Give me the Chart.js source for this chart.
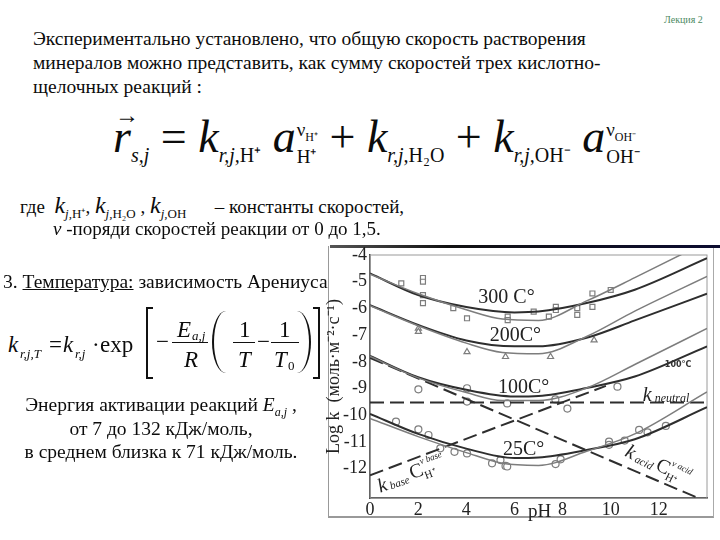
<!DOCTYPE html>
<html>
<head>
<meta charset="utf-8">
<script src="https://cdn.jsdelivr.net/npm/chart.js@4.4.0/dist/chart.umd.min.js"></script>
<style>
body { margin: 0; width: 720px; height: 540px; background: #fff; position: relative; overflow: hidden;
       font-family: 'Liberation Serif', 'Times New Roman', serif; color: #0c0c0c; }
.t { position: absolute; white-space: nowrap; z-index: 2; font-family: 'Liberation Serif', serif; }
sub, sup { line-height: 0; }
.i { font-style: italic; }
.rm { font-style: normal; }
.vec { position: relative; display: inline-block; }
.vec::before { content: '\2192'; position: absolute; left: 2px; top: -22px; font-size: 24px; font-style: normal; }
.stk { display: inline-flex; flex-direction: column; line-height: 27px; font-size: 19px; vertical-align: 16px; font-style: normal; margin-left: 1px; }
/* Arrhenius formula: pieces placed one by one */
.a { position: absolute; white-space: nowrap; font-size: 23px; line-height: 22px; z-index: 2; }
.s { font-size: 13px; line-height: 13px; font-style: italic; }
.bar { position: absolute; height: 0; border-top: 1.5px solid #111; }
.brk { position: absolute; width: 5px; height: 68px; border: 2px solid #111; }
.par { position: absolute; width: 12px; height: 62px; border: 0 solid #111; }
#frame { position: absolute; left: 328px; top: 246px; width: 384px; height: 270px;
         border-left: 1px solid #999; border-right: 1px solid #aaa; border-bottom: 2px solid #999; }
#bar { position: absolute; left: 330px; top: 245px; width: 390px; height: 3px; background: linear-gradient(90deg, #555, #111 30%, #0c0c30); }
#chart { position: absolute; left: 310px; top: 240px; z-index: 1; }
</style>
</head>
<body>
<div class="t" style="left:664px;top:14px;font-size:10px;color:#4d8a63">Лекция 2</div>
<div class="t" style="left:33px;top:27px;font-size:19.5px;line-height:24px">
Экспериментально установлено, что общую скорость растворения<br>
минералов можно представить, как сумму скоростей трех кислотно-<br>
щелочных реакций :
</div>

<div class="t i" style="left:113px;top:112px;font-size:46px;line-height:50px">
<span class="vec">r</span><sub style="font-size:20px">s,j</sub> <span class="rm">=</span> k<sub style="font-size:20px">r,j,<span class="rm">H⁺</span></sub> a<span class="stk"><span>ν<sub style="font-size:12px">H⁺</sub></span><span>H⁺</span></span> <span class="rm">+</span> k<sub style="font-size:20px">r,j,<span class="rm">H₂O</span></sub> <span class="rm">+</span> k<sub style="font-size:20px">r,j,<span class="rm">OH⁻</span></sub> a<span class="stk"><span>ν<sub style="font-size:12px">OH⁻</sub></span><span>OH⁻</span></span>
</div>

<div class="t" style="left:20px;top:193px;font-size:19px;line-height:24px">
где&nbsp; <span class="i" style="font-size:24px">k</span><sub class="i" style="font-size:13px">j,<span class="rm">H⁺</span></sub>, <span class="i" style="font-size:24px">k</span><sub class="i" style="font-size:13px">j,<span class="rm">H₂O</span></sub> , <span class="i" style="font-size:24px">k</span><sub class="i" style="font-size:13px">j,<span class="rm">OH</span></sub>&nbsp;&nbsp;&nbsp;&nbsp;&nbsp; – константы скоростей,
</div>
<div class="t" style="left:53px;top:217px;font-size:19px;line-height:24px">
<span class="i">ν</span> -поряди скоростей реакции от 0 до 1,5.
</div>

<div class="t" style="left:3px;top:271px;font-size:19.5px">3. <u>Температура:</u> зависимость Арениуса</div>

<span class="a i" style="left:8px;top:334px">k</span>
<span class="a s" style="left:20px;top:347px">r,j,T</span>
<span class="a" style="left:49px;top:334px">=</span>
<span class="a i" style="left:63px;top:334px">k</span>
<span class="a s" style="left:75px;top:347px">r,j</span>
<span class="a" style="left:92px;top:334px">·</span>
<span class="a" style="left:100px;top:334px">exp</span>
<div class="brk" style="left:146px;top:307px;border-right:none"></div>
<span class="a" style="left:156px;top:331px">−</span>
<span class="a i" style="left:177px;top:319px">E</span>
<span class="a s" style="left:192px;top:329px">a,j</span>
<div class="bar" style="left:172px;top:342px;width:36px"></div>
<span class="a i" style="left:184px;top:349px">R</span>
<div class="par" style="left:212px;top:311px;border-left-width:2.5px;border-radius:100% 0 0 100% / 50% 0 0 50%"></div>
<span class="a" style="left:239px;top:319px">1</span>
<div class="bar" style="left:233px;top:342px;width:22px"></div>
<span class="a i" style="left:238px;top:349px">T</span>
<span class="a" style="left:257px;top:331px">−</span>
<span class="a" style="left:279px;top:319px">1</span>
<div class="bar" style="left:271px;top:342px;width:28px"></div>
<span class="a i" style="left:274px;top:349px">T</span>
<span class="a s" style="left:288px;top:359px;font-style:normal">0</span>
<div class="par" style="left:297px;top:311px;border-right-width:2.5px;border-radius:0 100% 100% 0 / 0 50% 50% 0"></div>
<div class="brk" style="left:313px;top:307px;border-left:none"></div>

<div class="t" style="left:0;top:393px;width:322px;text-align:center;font-size:19.5px;line-height:23.5px">
Энергия активации реакций <span class="i">E</span><sub class="i" style="font-size:12px">a,j</sub> ,<br>
от 7 до 132 кДж/моль,<br>
в среднем близка к 71 кДж/моль.
</div>

<div id="frame"></div>
<div id="bar"></div>
<canvas id="chart" width="410" height="300"></canvas>

<script>
// axis ticks
const xTicks = [0, 2, 4, 6, 8, 10, 12];
const yTicks = [-4, -5, -6, -7, -8, -9, -10, -11, -12];

// fitted curves (dark = model 1, gray = model 2)
const phDark = [0, 2, 4, 6, 7, 9, 11, 14];
const k300Dark = [-4.69, -5.5, -5.95, -6.15, -6.12, -5.8, -5.3, -4.12];
const k200Dark = [-5.88, -6.62, -7.2, -7.42, -7.42, -7.1, -6.45, -5.45];
const k100Dark = [-7.78, -8.58, -9.05, -9.3, -9.28, -8.98, -8.55, -7.42];
const k25Dark = [-9.95, -10.7, -11.25, -11.6, -11.58, -11.3, -10.9, -9.7];

const phGray = [0, 2, 4, 5.5, 7, 9, 11, 14];
const k300Gray = [-4.72, -5.45, -6.05, -6.4, -6.45, -5.72, -4.85, -3.5];
const k200Gray = [-5.9, -6.65, -7.3, -7.65, -7.7, -7.05, -6.1, -4.8];
const k100Gray = [-7.8, -8.6, -9.15, -9.45, -9.45, -8.98, -8.1, -6.75];
const k25Gray = [-10.12, -10.8, -11.4, -11.8, -11.88, -11.35, -10.7, -9.13];

// dashed rate-law lines
const phNeutral = [0, 14];
const kNeutral = [-9.52, -9.52];
const phAcid = [0, 13.6];
const kAcid = [-7.85, -13.09];
const phBase = [0, 9.8];
const kBase = [-12.25, -8.9];

// measured points
const pts300X = [1.3, 2.2, 2.2, 2.2, 2.2, 3.46, 4.03, 5.72, 5.72, 6.8, 7.43, 7.72, 7.72, 8.61, 8.61, 9.24, 9.24, 10.0];
const pts300Y = [-5.06, -4.86, -5.0, -5.5, -5.8, -5.99, -6.37, -6.31, -6.44, -6.12, -6.31, -5.94, -6.06, -5.99, -6.24, -5.44, -5.94, -5.31];
const pts200X = [2.01, 2.01, 4.03, 5.63, 7.5, 9.31];
const pts200Y = [-6.75, -6.87, -7.63, -7.81, -7.81, -7.19];
const pts100X = [2.01, 4.03, 4.03, 5.7, 7.7, 8.2, 10.28];
const pts100Y = [-9.03, -8.99, -9.49, -9.56, -9.41, -9.75, -8.93];
const pts25X = [1.08, 2.01, 2.43, 2.92, 3.51, 4.03, 5.07, 5.42, 5.63, 5.7, 7.71, 7.92, 9.93, 9.93, 10.58, 11.18, 11.53, 12.29];
const pts25Y = [-10.24, -10.53, -10.74, -11.24, -11.37, -11.43, -11.8, -11.68, -11.9, -11.92, -11.83, -11.65, -10.99, -11.11, -10.95, -10.55, -10.64, -10.4];

// curve labels
const tempLabels = ['300 C°', '200C°', '100C°', '25C°'];
const tempLabelPH = [5.67, 6.04, 6.38, 6.38];
const tempLabelK = [-5.61, -7.04, -8.98, -11.3];

const DARK = '#2e2e2e';
const GRAY = '#7d7d7d';
const SERIF = '"Liberation Serif", "Times New Roman", serif';

const xy = (xs, ys) => xs.map((x, i) => ({ x, y: ys[i] }));

function curve(xs, ys, color, width) {
    return {
        data: xy(xs, ys),
        borderColor: color,
        borderWidth: width,
        pointRadius: 0,
        cubicInterpolationMode: 'monotone',
        fill: false,
    };
}

function dashed(xs, ys) {
    return {
        data: xy(xs, ys),
        borderColor: DARK,
        borderWidth: 2,
        borderDash: [14, 6],
        pointRadius: 0,
        tension: 0,
        fill: false,
    };
}

function points(xs, ys, style) {
    return {
        data: xy(xs, ys),
        showLine: false,
        pointStyle: style,
        pointRadius: 3.5,
        pointBorderWidth: 1.2,
        pointBorderColor: GRAY,
        pointBackgroundColor: '#fff',
    };
}

// text made of pieces with their own size / offset (sub- and superscripts)
function drawRich(ctx, x, y, segs, angle) {
    ctx.save();
    ctx.translate(x, y);
    ctx.rotate((angle || 0) * Math.PI / 180);
    const font = s => (s.it ? 'italic ' : '') + s.size + 'px ' + SERIF;
    let w = 0, start = 0;
    const pos = segs.map(s => {
        ctx.font = font(s);
        const sw = ctx.measureText(s.t).width;
        if (s.stack) {
            w = Math.max(w, start + sw);
            return start;
        }
        start = w;
        w += sw;
        return start;
    });
    ctx.fillStyle = '#222';
    ctx.textBaseline = 'middle';
    ctx.textAlign = 'left';
    segs.forEach((s, i) => {
        ctx.font = font(s);
        ctx.fillText(s.t, pos[i] - w / 2, s.dy || 0);
    });
    ctx.restore();
}

const labelPlugin = {
    id: 'labels',
    beforeDatasetsDraw(chart) {
        const { ctx, chartArea: a } = chart;
        ctx.save();
        ctx.strokeStyle = '#9a9a9a';
        ctx.lineWidth = 1;
        ctx.strokeRect(a.left, a.top, a.right - a.left, a.bottom - a.top);
        ctx.restore();
    },
    afterDatasetsDraw(chart) {
        const { ctx, scales: { x, y }, chartArea: a } = chart;
        const px = v => x.getPixelForValue(v);
        const py = v => y.getPixelForValue(v);
        tempLabels.forEach((t, i) => {
            drawRich(ctx, px(tempLabelPH[i]), py(tempLabelK[i]), [{ t, size: 20 }]);
        });
        ctx.save();
        ctx.font = 'bold 8px "DejaVu Sans", sans-serif';
        ctx.fillStyle = '#333';
        ctx.textAlign = 'center';
        ctx.fillText('100°C', px(12.8), py(-8.2));
        ctx.restore();
        drawRich(ctx, px(12.3), py(-9.27), [
            { t: 'k', size: 20, it: true },
            { t: ' neutral', size: 12, it: true, dy: 3 },
        ]);
        drawRich(ctx, px(1.7), py(-12.2), [
            { t: 'k', size: 20, it: true, dy: 2 },
            { t: ' base ', size: 11, it: true, dy: 5 },
            { t: 'C', size: 20 },
            { t: 'ν base', size: 9, it: true, dy: -8 },
            { t: 'H⁺', size: 11, dy: 7, stack: true },
        ], -20);
        drawRich(ctx, px(11.95), py(-11.85), [
            { t: 'k', size: 20, it: true, dy: 2 },
            { t: ' acid ', size: 11, it: true, dy: 5 },
            { t: 'C', size: 20 },
            { t: 'ν acid', size: 9, it: true, dy: -8 },
            { t: 'H⁺', size: 11, dy: 7, stack: true },
        ], 27);
        drawRich(ctx, px(7.05), a.bottom + 14, [{ t: 'pH', size: 19 }]);
    },
};

new Chart(document.getElementById('chart'), {
    type: 'line',
    data: {
        datasets: [
            curve(phGray, k300Gray, GRAY, 1.5),
            curve(phGray, k200Gray, GRAY, 1.5),
            curve(phGray, k100Gray, GRAY, 1.5),
            curve(phGray, k25Gray, GRAY, 1.5),
            curve(phDark, k300Dark, DARK, 2),
            curve(phDark, k200Dark, DARK, 2),
            curve(phDark, k100Dark, DARK, 2),
            curve(phDark, k25Dark, DARK, 2),
            dashed(phNeutral, kNeutral),
            dashed(phAcid, kAcid),
            dashed(phBase, kBase),
            points(pts300X, pts300Y, 'rect'),
            points(pts200X, pts200Y, 'triangle'),
            points(pts100X, pts100Y, 'circle'),
            points(pts25X, pts25Y, 'circle'),
        ],
    },
    options: {
        responsive: false,
        animation: false,
        events: [],
        layout: { padding: { left: 10, top: 15, right: 13, bottom: 0 } },
        plugins: { legend: { display: false }, tooltip: { enabled: false } },
        scales: {
            x: {
                type: 'linear',
                min: 0,
                max: 14,
                afterBuildTicks: s => { s.ticks = xTicks.map(value => ({ value })); },
                afterFit: s => { s.height = 42; },
                grid: { display: false, drawTicks: false },
                border: { display: true, color: DARK, width: 1.5 },
                ticks: { color: '#222', padding: 1, maxRotation: 0, font: { family: SERIF, size: 18 } },
            },
            y: {
                type: 'linear',
                min: -13.1,
                max: -4,
                afterBuildTicks: s => { s.ticks = yTicks.map(value => ({ value })); },
                afterFit: s => { s.width = 50; },
                grid: { display: false, drawTicks: false },
                border: { display: true, color: DARK, width: 1.5 },
                ticks: { color: '#222', padding: 3, font: { family: SERIF, size: 18 } },
                title: {
                    display: true,
                    text: 'Log k  (моль·м⁻²·с⁻¹)',
                    color: '#222',
                    padding: { top: 3, bottom: 0 },
                    font: { family: SERIF, size: 18 },
                },
            },
        },
    },
    plugins: [labelPlugin],
});
</script>
</body>
</html>
